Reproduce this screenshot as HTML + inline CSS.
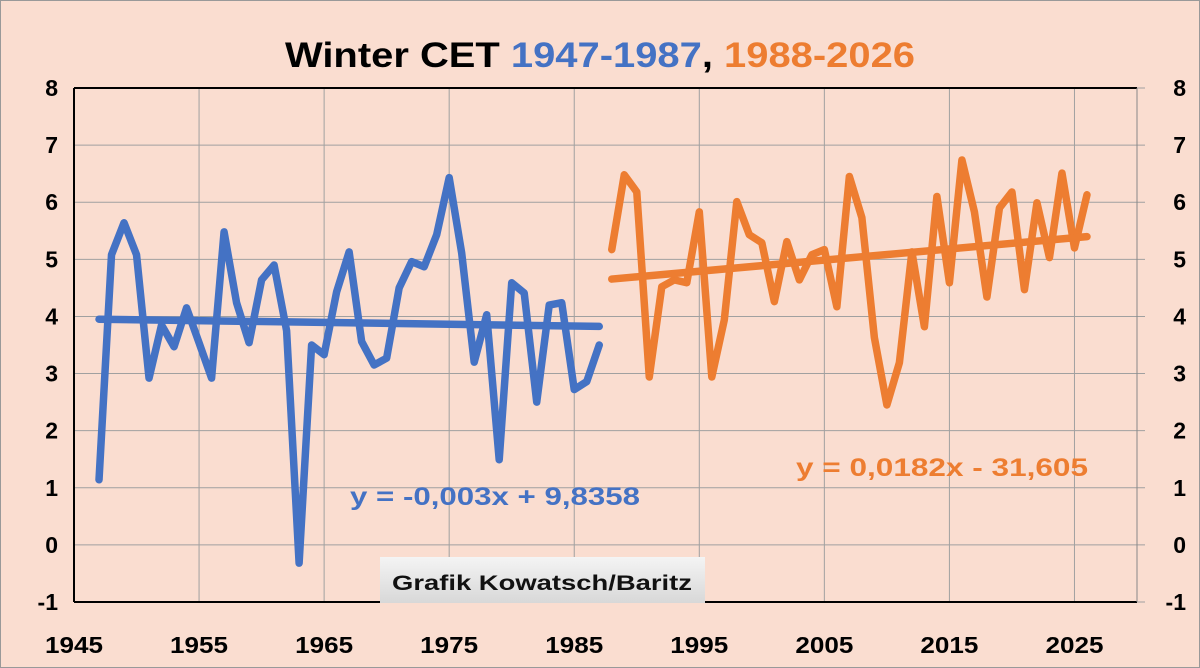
<!DOCTYPE html>
<html><head><meta charset="utf-8"><style>
html,body{margin:0;padding:0;background:#FADDD0;}
svg{display:block;font-family:"Liberation Sans",Arial,sans-serif;}
</style></head><body>
<svg id="chart" width="1200" height="668" viewBox="0 0 1200 668">
<rect x="0.5" y="0.5" width="1199" height="667" fill="#FADDD0" stroke="#999"/>
<text x="600" y="67" text-anchor="middle" font-size="35" font-weight="bold" textLength="630" lengthAdjust="spacingAndGlyphs"><tspan fill="#000">Winter CET </tspan><tspan fill="#4472C4">1947-1987</tspan><tspan fill="#000">, </tspan><tspan fill="#ED7D31">1988-2026</tspan></text>
<g id="grid"></g>
<g id="axes"></g>
<g id="series"></g>
<text x="350" y="505" font-size="25" font-weight="bold" fill="#4472C4" textLength="290" lengthAdjust="spacingAndGlyphs">y = -0,003x + 9,8358</text>
<text x="796" y="476" font-size="25" font-weight="bold" fill="#ED7D31" textLength="292" lengthAdjust="spacingAndGlyphs">y = 0,0182x - 31,605</text>
<g>
<defs><linearGradient id="cg" x1="0" y1="0" x2="0" y2="1"><stop offset="0" stop-color="#f4f4f4"/><stop offset="1" stop-color="#d8d8d8"/></linearGradient></defs>
<rect x="380" y="557" width="325" height="46" fill="url(#cg)"/>
<text x="542" y="590" text-anchor="middle" font-size="21" font-weight="bold" fill="#111" textLength="300" lengthAdjust="spacingAndGlyphs">Grafik Kowatsch/Baritz</text>
</g>
</svg>
<script>
const years1 = [1947,1948,1949,1950,1951,1952,1953,1954,1955,1956,1957,1958,1959,1960,1961,1962,1963,1964,1965,1966,1967,1968,1969,1970,1971,1972,1973,1974,1975,1976,1977,1978,1979,1980,1981,1982,1983,1984,1985,1986,1987];
const values1 = [1.14,5.08,5.64,5.08,2.92,3.85,3.47,4.15,3.54,2.92,5.48,4.24,3.54,4.64,4.9,3.75,-0.32,3.5,3.33,4.43,5.13,3.56,3.15,3.27,4.5,4.96,4.87,5.43,6.43,5.11,3.2,4.03,1.49,4.59,4.41,2.5,4.2,4.24,2.72,2.86,3.5];
const years2 = [1988,1989,1990,1991,1992,1993,1994,1995,1996,1997,1998,1999,2000,2001,2002,2003,2004,2005,2006,2007,2008,2009,2010,2011,2012,2013,2014,2015,2016,2017,2018,2019,2020,2021,2022,2023,2024,2025,2026];
const values2 = [5.17,6.48,6.18,2.94,4.52,4.64,4.59,5.83,2.94,3.94,6.01,5.43,5.29,4.26,5.31,4.64,5.08,5.17,4.17,6.45,5.73,3.63,2.45,3.19,5.13,3.82,6.1,4.59,6.74,5.83,4.34,5.9,6.18,4.47,5.99,5.03,6.51,5.2,6.13];
const xTicks = [1945,1955,1965,1975,1985,1995,2005,2015,2025];
const yTicks = [-1,0,1,2,3,4,5,6,7,8];

const NS='http://www.w3.org/2000/svg';
const X0=74, X1=1137, Y0=602, Y1=88, XMIN=1945, XMAX=2030, YMIN=-1, YMAX=8;
const xs=v=>X0+(v-XMIN)/(XMAX-XMIN)*(X1-X0);
const ys=v=>Y0-(v-YMIN)/(YMAX-YMIN)*(Y0-Y1);
function mk(tag,attrs,parent){const e=document.createElementNS(NS,tag);for(const k in attrs)e.setAttribute(k,attrs[k]);parent.appendChild(e);return e;}
const grid=document.getElementById('grid'), axes=document.getElementById('axes'), series=document.getElementById('series');
mk('rect',{x:X0,y:Y1,width:X1-X0,height:Y0-Y1,fill:'#FADDD0'},grid);
for(let y=YMIN;y<=YMAX;y++){
  const l=mk('line',{x1:X0,x2:X1+8,y1:ys(y),y2:ys(y),stroke:'#a0a0a0','stroke-width':1},grid);
  
  
}
for(let x=1955;x<XMAX;x+=10){
  const l=mk('line',{x1:xs(x),x2:xs(x),y1:Y1,y2:Y0,stroke:'#a0a0a0','stroke-width':1},grid);
  
  
}
mk('line',{x1:X0,x2:X1,y1:Y1,y2:Y1,stroke:'#000','stroke-width':2},axes);
mk('line',{x1:X0,x2:X0,y1:Y1,y2:Y0,stroke:'#000','stroke-width':2},axes);
mk('line',{x1:X0,x2:X1,y1:Y0,y2:Y0,stroke:'#000','stroke-width':2},axes);
mk('line',{x1:X1,x2:X1,y1:Y1,y2:Y0,stroke:'#888','stroke-width':1},axes);
yTicks.forEach(v=>{
  const t=mk('text',{x:58,y:ys(v)+8,'text-anchor':'end','font-size':23,'font-weight':'bold',fill:'#000'},axes);
  t.textContent=v;
  
  
  const t2=mk('text',{x:1186,y:ys(v)+8,'text-anchor':'end','font-size':23,'font-weight':'bold',fill:'#000'},axes);
  t2.textContent=v;
  
  
});
xTicks.forEach(v=>{
  const t=mk('text',{x:xs(v),y:653,'text-anchor':'middle','font-size':23,'font-weight':'bold',fill:'#000',textLength:58,lengthAdjust:'spacingAndGlyphs'},axes);
  t.textContent=v;
  
  
});
function fit(xa,ya){const n=xa.length;let mx=0,my=0;xa.forEach((x,i)=>{mx+=x;my+=ya[i];});mx/=n;my/=n;let sxy=0,sxx=0;xa.forEach((x,i)=>{sxy+=(x-mx)*(ya[i]-my);sxx+=(x-mx)*(x-mx);});const b=sxy/sxx;return [b,my-b*mx];}
function draw(xa,ya,color,name){
  const p=mk('polyline',{points:xa.map((x,i)=>xs(x)+','+ys(ya[i])).join(' '),fill:'none',stroke:color,'stroke-width':7.5,'stroke-linejoin':'round','stroke-linecap':'round'},series);
  
  
  const [b,a]=fit(xa,ya);const xa0=xa[0],xa1=xa[xa.length-1];
  const t=mk('line',{x1:xs(xa0),y1:ys(a+b*xa0),x2:xs(xa1),y2:ys(a+b*xa1),stroke:color,'stroke-width':7.5,'stroke-linecap':'round'},series);
  
  
}
draw(years1,values1,'#4472C4','series-1947-1987');
draw(years2,values2,'#ED7D31','series-1988-2026');
</script>
</body></html>
